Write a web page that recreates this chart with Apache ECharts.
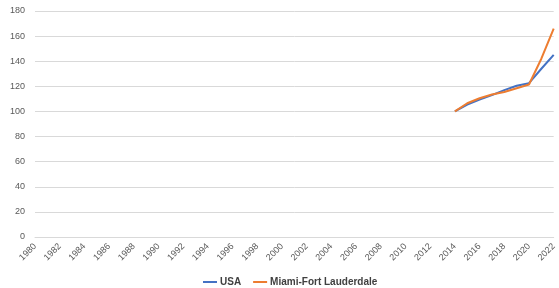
<!DOCTYPE html>
<html>
<head>
    <meta charset="utf-8">
    <title></title>
    <script src="https://cdn.jsdelivr.net/npm/echarts@6/dist/echarts.min.js"></script>
</head>
<body style="margin:0;background:#fff;">
<div id="main" style="width:559px;height:288px;"></div>
<script type="text/javascript">
    // years 1980..2022
    var years = [];
    for (var y = 1980; y <= 2022; y++) years.push(String(y));

    // index values, only 2014..2022 have data
    var usaVals   = [100, 105.5, 109.5, 113, 117, 120.5, 122.5, 134, 145];
    var miamiVals = [100, 106.5, 110.5, 113.5, 115.5, 118.5, 121.5, 142, 166];
    var firstYear = 2014;

    function fill(vals) {
        var out = [];
        for (var i = 0; i < years.length; i++) {
            var k = +years[i] - firstYear;
            out.push(k >= 0 && k < vals.length ? vals[k] : null);
        }
        return out;
    }

    var myChart = echarts.init(document.getElementById('main'));
    myChart.setOption({
        animation: false,
        grid: { left: 35, right: 2, top: 11, bottom: 51 },
        legend: {
            bottom: 1,
            left: 203,
            padding: 0,
            itemWidth: 14,
            itemHeight: 2,
            itemGap: 12,
            icon: 'rect',
            textStyle: { color: '#404040', fontSize: 10, fontWeight: 'bold', fontFamily: 'Liberation Sans', padding: [0, 0, 0, -2] },
            data: ['USA', 'Miami-Fort Lauderdale']
        },
        xAxis: {
            type: 'category',
            data: years,
            boundaryGap: false,
            axisLine: { lineStyle: { color: '#d9d9d9' } },
            axisTick: { show: false },
            axisLabel: {
                interval: 1,
                rotate: 45,
                color: '#595959',
                fontSize: 9,
                margin: 8,
                fontFamily: 'Liberation Sans'
            }
        },
        yAxis: {
            type: 'value',
            min: 0,
            max: 180,
            interval: 20,
            axisLine: { show: false },
            axisTick: { show: false },
            axisLabel: { color: '#595959', fontSize: 9, margin: 10, fontFamily: 'Liberation Sans' },
            splitLine: { lineStyle: { color: '#d9d9d9' } }
        },
        series: [
            {
                name: 'USA',
                type: 'line',
                data: fill(usaVals),
                showSymbol: false,
                symbol: 'none',
                lineStyle: { width: 2, color: '#4472C4' },
                itemStyle: { color: '#4472C4' }
            },
            {
                name: 'Miami-Fort Lauderdale',
                type: 'line',
                data: fill(miamiVals),
                showSymbol: false,
                symbol: 'none',
                lineStyle: { width: 2, color: '#ED7D31' },
                itemStyle: { color: '#ED7D31' }
            }
        ]
    });
</script>
</body>
</html>
